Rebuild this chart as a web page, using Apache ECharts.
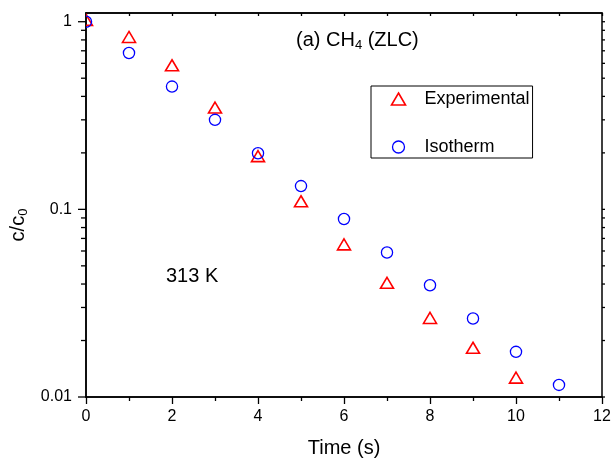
<!DOCTYPE html>
<html>
<head>
<meta charset="utf-8">
<script src="https://cdn.jsdelivr.net/npm/echarts@6/dist/echarts.min.js"></script>
<style>
  html, body { margin: 0; padding: 0; background: #fff; }
  #chart { width: 612px; height: 460px; }
</style>
</head>
<body>
<div id="chart"></div>
<script>
// data
const times = [0, 1, 2, 3, 4, 5, 6, 7, 8, 9, 10, 11];
const experimental = [1.0, 0.811, 0.573, 0.341, 0.188, 0.108, 0.0636, 0.0397, 0.0258, 0.0179, 0.0124];
const isotherm = [1.0, 0.681, 0.451, 0.300, 0.199, 0.133, 0.0888, 0.0589, 0.0394, 0.0262, 0.0174, 0.0116];

const yTickValues = [0.01, 0.1, 1];
const yTickLabels = ["0.01", "0.1", "1"];
const yMinorTicks = [0.02, 0.03, 0.04, 0.05, 0.06, 0.07, 0.08, 0.09,
                     0.2, 0.3, 0.4, 0.5, 0.6, 0.7, 0.8, 0.9];

const FONT = "Liberation Sans, Arial, Helvetica, sans-serif";
const RED = "#ff0000";
const BLUE = "#0000ff";

var myChart = echarts.init(document.getElementById("chart"), null, { renderer: "canvas" });

function gridClip(params) {
  const c = params.coordSys;
  return { type: "rect", shape: { x: c.x, y: c.y, width: c.width, height: c.height } };
}

// triangle with its centroid on the point, like Origin draws it
function triangleItem(params, api) {
  const p = api.coord([api.value(0), api.value(1)]);
  const w = 13, h = 11;
  return {
    type: "group",
    clipPath: gridClip(params),
    children: [{
      type: "polygon",
      shape: { points: [[p[0], p[1] - h * 2 / 3], [p[0] + w / 2, p[1] + h / 3], [p[0] - w / 2, p[1] + h / 3]] },
      style: { fill: "none", stroke: RED, lineWidth: 1.6 },
    }],
  };
}

function circleItem(params, api) {
  const p = api.coord([api.value(0), api.value(1)]);
  return {
    type: "group",
    clipPath: gridClip(params),
    children: [{
      type: "circle",
      shape: { cx: p[0], cy: p[1], r: 5.6 },
      style: { fill: "none", stroke: BLUE, lineWidth: 1.3 },
    }],
  };
}

// log minor/major ticks on left and right edges (both outward)
function tickItem(params, api) {
  const v = api.value(0);
  const major = api.value(1) === 1;
  const a = api.coord([0, v]);
  const b = api.coord([12, v]);
  return {
    type: "group",
    children: [
      {
        type: "line",
        shape: { x1: a[0] - (major ? 8 : 5), y1: a[1], x2: a[0], y2: a[1] },
        style: { stroke: "#000", lineWidth: 1.3 },
      },
      {
        type: "line",
        shape: { x1: b[0], y1: b[1], x2: b[0] + 3, y2: b[1] },
        style: { stroke: "#000", lineWidth: 1.3 },
      },
    ],
  };
}

const tickData = yMinorTicks.map((v) => [v, 0]).concat(yTickValues.map((v) => [v, 1]));

var option = {
  animation: false,
  textStyle: { fontFamily: FONT, color: "#000" },
  grid: {
    left: 86, right: 10, top: 13, bottom: 63,
    outerBoundsMode: "none",
    containLabel: false,
    show: true, borderColor: "#000", borderWidth: 1.5,
  },
  legend: {
    orient: "vertical",
    left: 371, top: 86,
    padding: [4, 3, 2, 18],
    itemGap: 30,
    itemWidth: 14, itemHeight: 12,
    borderColor: "#000", borderWidth: 1,
    textStyle: { fontFamily: FONT, fontSize: 18, color: "#000", padding: [0, 0, 0, 14] },
    data: [
      { name: "Experimental", icon: "triangle", itemStyle: { color: "none", borderColor: RED, borderWidth: 1.6 } },
      { name: "Isotherm", icon: "circle", itemStyle: { color: "none", borderColor: BLUE, borderWidth: 1.3 } },
    ],
  },
  xAxis: [
    {
      type: "value", min: 0, max: 12, interval: 2,
      name: "Time (s)", nameLocation: "middle", nameGap: 41,
      nameTextStyle: { fontFamily: FONT, fontSize: 20, color: "#000" },
      axisLine: { lineStyle: { color: "#000", width: 1.5 } },
      axisTick: { length: 7, lineStyle: { color: "#000", width: 1.3 } },
      minorTick: { show: true, splitNumber: 2, length: 4, lineStyle: { color: "#000", width: 1.3 } },
      axisLabel: { fontFamily: FONT, fontSize: 16, color: "#000", margin: 12 },
      splitLine: { show: false },
    },
    {
      type: "value", position: "top", min: 0, max: 12, interval: 1,
      axisLine: { lineStyle: { color: "#000", width: 1.5 } },
      axisTick: { inside: true, length: 3, lineStyle: { color: "#000", width: 1.3 } },
      axisLabel: { show: false },
      splitLine: { show: false },
    },
  ],
  yAxis: {
    type: "log", logBase: 10, min: 0.01, max: 1.113,
    name: "c/c{sub|0}", nameLocation: "middle", nameGap: 54,
    nameTextStyle: {
      fontFamily: FONT, fontSize: 20, color: "#000", padding: [0, 0, 0, -40],
      rich: { sub: { fontFamily: FONT, fontSize: 13, color: "#000", verticalAlign: "bottom", padding: [9, 0, 0, 0] } },
    },
    axisLine: { lineStyle: { color: "#000", width: 1.5 } },
    axisTick: { show: false },
    axisLabel: {
      fontFamily: FONT, fontSize: 16, color: "#000", margin: 14,
      formatter: (v) => {
        const i = yTickValues.findIndex((t) => Math.abs(Math.log10(v) - Math.log10(t)) < 1e-6);
        return i >= 0 ? yTickLabels[i] : "";
      },
    },
    splitLine: { show: false },
  },
  graphic: [
    {
      type: "text", left: 296, top: 30,
      style: {
        text: "{m|(a) CH}{sub|4}{m| (ZLC)}",
        font: "20px " + FONT, fill: "#000",
        rich: {
          m: { fontFamily: FONT, fontSize: 20, fill: "#000", lineHeight: 24, verticalAlign: "middle" },
          sub: { fontFamily: FONT, fontSize: 13, fill: "#000", lineHeight: 14, verticalAlign: "bottom" },
        },
      },
    },
    {
      type: "text", left: 166, top: 266,
      style: { text: "313 K", font: "20px " + FONT, fill: "#000" },
    },
  ],
  series: [
    {
      name: "ticks", type: "custom", clip: false, silent: true, z: 1,
      data: tickData, renderItem: tickItem,
      encode: { x: -1, y: 0 },
    },
    {
      name: "Experimental", type: "custom", clip: true, z: 3,
      data: experimental.map((v, i) => [times[i], v]),
      renderItem: triangleItem,
    },
    {
      name: "Isotherm", type: "custom", clip: true, z: 4,
      data: isotherm.map((v, i) => [times[i], v]),
      renderItem: circleItem,
    },
  ],
};

option && myChart.setOption(option);
</script>
</body>
</html>
